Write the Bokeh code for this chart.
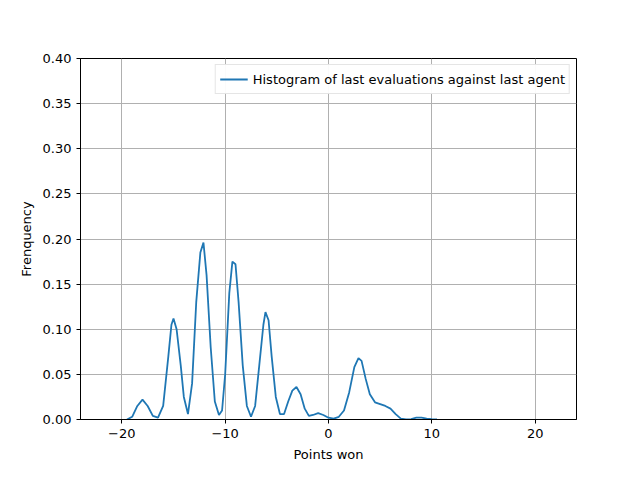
from bokeh.plotting import figure
from bokeh.models import Range1d, SingleIntervalTicker, CustomJSTickFormatter
from bokeh.embed import file_html
from bokeh.resources import INLINE

pts_x = [-19.5, -19, -18.5, -18, -17.5, -17, -16.5, -16, -15.5, -15.2, -15, -14.7, -14.3, -14,
         -13.6, -13.2, -12.8, -12.4, -12.1, -11.8, -11.4, -11, -10.6, -10.3, -10, -9.6, -9.3,
         -9, -8.7, -8.3, -7.9, -7.5, -7.1, -6.7, -6.3, -6.1, -5.8, -5.5, -5.1, -4.7, -4.3,
         -3.9, -3.5, -3.1, -2.7, -2.3, -1.9, -1.5, -1, -0.5, 0, 0.5, 1, 1.5, 2, 2.5, 2.9,
         3.2, 3.6, 4, 4.5, 5, 5.5, 6, 6.5, 7, 7.5, 8, 8.5, 9, 9.5, 10, 10.5]
freq = [0, 0.003, 0.015, 0.022, 0.015, 0.004, 0.002, 0.015, 0.07, 0.105, 0.112, 0.1, 0.06,
        0.025, 0.006, 0.04, 0.13, 0.185, 0.196, 0.16, 0.08, 0.02, 0.005, 0.01, 0.05, 0.14,
        0.175, 0.172, 0.13, 0.06, 0.015, 0.003, 0.015, 0.06, 0.105, 0.119, 0.11, 0.07, 0.025,
        0.006, 0.006, 0.02, 0.032, 0.036, 0.028, 0.012, 0.004, 0.005, 0.007, 0.005, 0.002,
        0.001, 0.003, 0.01, 0.03, 0.058, 0.068, 0.065, 0.045, 0.028, 0.019, 0.017, 0.015,
        0.012, 0.006, 0.001, 0, 0.0005, 0.002, 0.002, 0.001, 0.0003, 0]

FONT = "DejaVu Sans"

p = figure(width=624, height=464, output_backend="svg", toolbar_location=None,
           x_range=Range1d(-24, 24), y_range=Range1d(0, 0.4),
           x_axis_label="Points won", y_axis_label="Frenquency",
           min_border_left=80, min_border_right=48, min_border_top=58, min_border_bottom=37)

p.line(pts_x, freq, line_color="#1f77b4", line_width=1.8,
       legend_label="Histogram of last evaluations against last agent")

p.xaxis.ticker = SingleIntervalTicker(interval=10)
p.yaxis.ticker = SingleIntervalTicker(interval=0.05)
p.yaxis.formatter = CustomJSTickFormatter(code="return tick.toFixed(2)")
for ax in (p.xaxis, p.yaxis):
    ax.axis_label_text_font = FONT
    ax.axis_label_text_font_style = "normal"
    ax.axis_label_text_font_size = "13px"
    ax.axis_label_text_color = "black"
    ax.major_label_text_font = FONT
    ax.major_label_text_font_size = "13px"
    ax.major_label_text_color = "black"
    ax.minor_tick_line_color = None
    ax.major_tick_in = 0
    ax.major_tick_out = 4
    ax.axis_line_color = "black"
    ax.major_tick_line_color = "black"
    ax.axis_label_standoff = 6

p.grid.grid_line_color = "#b0b0b0"
p.grid.grid_line_width = 1
p.outline_line_color = "black"
p.outline_line_alpha = 1

p.legend.location = "top_right"
p.legend.label_text_font = FONT
p.legend.label_text_font_size = "13px"
p.legend.label_text_color = "black"
p.legend.border_line_color = "#cccccc"
p.legend.margin = 6
p.legend.padding = 4
p.legend.spacing = 0
p.legend.glyph_width = 28

open("out.html", "w").write(file_html(p, INLINE))
